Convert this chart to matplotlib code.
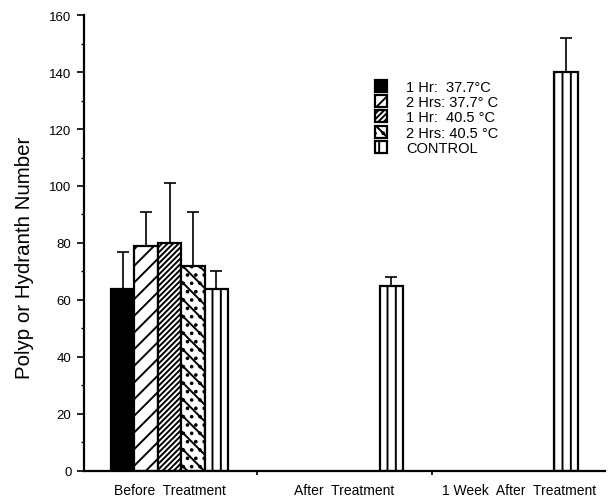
import matplotlib.pyplot as plt
from matplotlib.patches import Patch
import matplotlib as mpl

mpl.rcParams['hatch.linewidth'] = 1.4
plt.rcParams['font.family'] = ['Liberation Sans', 'DejaVu Sans']

groups = ['Before  Treatment', 'After  Treatment', '1 Week  After  Treatment']
series = ['1 Hr:  37.7\u00b0C', '2 Hrs: 37.7\u00b0 C', '1 Hr:  40.5 \u00b0C',
          '2 Hrs: 40.5 \u00b0C', 'CONTROL']
# values per series across the three groups (None = not measured)
hr1_377 = [64, None, None]
hr2_377 = [79, None, None]
hr1_405 = [80, None, None]
hr2_405 = [72, None, None]
control = [64, 65, 140]
err_hr1_377 = [13, 0, 0]
err_hr2_377 = [12, 0, 0]
err_hr1_405 = [21, 0, 0]
err_hr2_405 = [19, 0, 0]
err_control = [6, 3, 12]

values = [hr1_377, hr2_377, hr1_405, hr2_405, control]
errors = [err_hr1_377, err_hr2_377, err_hr1_405, err_hr2_405, err_control]
faces = ['black', 'white', 'white', 'white', 'white']
hatches = [None, '//', '//////', '..\\\\', '||']

fig = plt.figure(figsize=(6.08, 5.02), dpi=100)
ax = fig.add_axes([0.138, 0.06, 0.857, 0.908])

w = 0.134
for i in range(5):
    for g in range(3):
        v = values[i][g]
        if v is None:
            continue
        x = g + (i - 2) * w
        ax.bar(x, v, width=w, color=faces[i], edgecolor='black',
               hatch=hatches[i], linewidth=1.6, zorder=2)
        ax.errorbar(x, v, yerr=[[0], [errors[i][g]]], fmt='none',
                    ecolor='black', elinewidth=1.2, capsize=4.5,
                    capthick=1.2, zorder=1)

handles = [Patch(facecolor=faces[i], edgecolor='black', hatch=hatches[i],
                 linewidth=1.6) for i in range(5)]
ax.legend(handles, series, loc='upper left', bbox_to_anchor=(0.559, 0.858),
          frameon=False, fontsize=10.5, handlelength=0.8, handleheight=0.9,
          handletextpad=1.3, labelspacing=0.08, borderaxespad=0,
          borderpad=0)

ax.set_xlim(-0.49, 2.49)
ax.set_ylim(0, 160)
ax.set_yticks(range(0, 161, 20))
ax.set_yticks(range(0, 161, 10), minor=True)
ax.tick_params(axis='y', which='major', labelsize=9.5, length=5, width=1.2,
               pad=4)
ax.tick_params(axis='y', which='minor', length=2.5, width=1)
ax.set_xticks([0, 1, 2])
ax.set_xticklabels(groups, fontsize=10)
ax.set_xticks([0.5, 1.5], minor=True)
ax.tick_params(axis='x', which='major', length=0, pad=9)
ax.tick_params(axis='x', which='minor', length=3, width=1.2)
ax.set_ylabel('Polyp or Hydranth Number', fontsize=14.8)
ax.yaxis.set_label_coords(-0.096, 0.47)

for s in ['top', 'right']:
    ax.spines[s].set_visible(False)
for s in ['left', 'bottom']:
    ax.spines[s].set_linewidth(1.6)

fig.savefig('out.png', dpi=100)
